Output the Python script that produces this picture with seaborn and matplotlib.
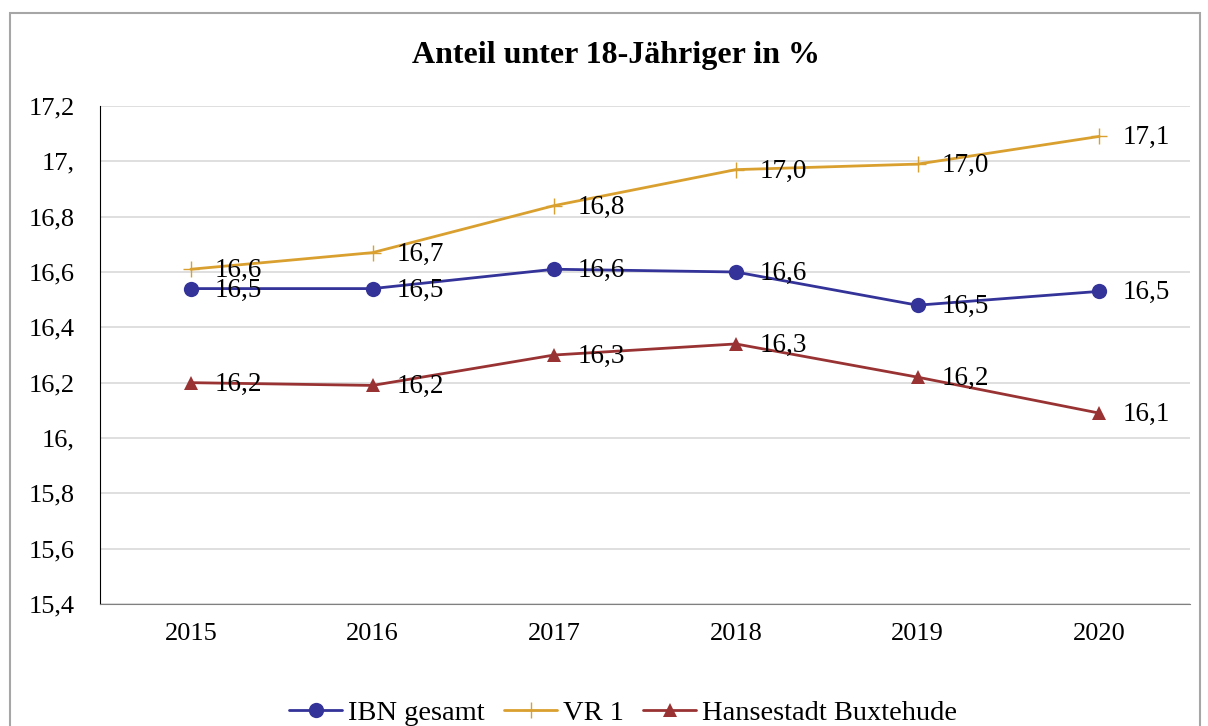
import pandas as pd
import seaborn as sns
import matplotlib.pyplot as plt
from matplotlib.patches import Rectangle

years = ['2015', '2016', '2017', '2018', '2019', '2020']
ibn_gesamt = [16.54, 16.54, 16.61, 16.60, 16.48, 16.53]
vr_1 = [16.61, 16.67, 16.84, 16.97, 16.99, 17.09]
buxtehude = [16.20, 16.19, 16.30, 16.34, 16.22, 16.09]
series_names = ['IBN gesamt', 'VR 1', 'Hansestadt Buxtehude']
y_ticks = [15.4, 15.6, 15.8, 16.0, 16.2, 16.4, 16.6, 16.8, 17.0, 17.2]
y_tick_labels = ['15,4', '15,6', '15,8', '16,', '16,2', '16,4', '16,6', '16,8', '17,', '17,2']

colors = {'IBN gesamt': '#333399', 'VR 1': '#D9A030', 'Hansestadt Buxtehude': '#993333'}
markers = {'IBN gesamt': 'o', 'VR 1': '+', 'Hansestadt Buxtehude': '^'}
sizes = {'IBN gesamt': 11, 'VR 1': 12, 'Hansestadt Buxtehude': 10}

df = pd.DataFrame({
    'Jahr': years * 3,
    'Wert': ibn_gesamt + vr_1 + buxtehude,
    'Serie': [s for s in series_names for _ in years],
})

sns.set_style('white')
plt.rcParams['font.family'] = ['Liberation Serif', 'DejaVu Serif']
plt.rcParams['text.color'] = 'black'
plt.rcParams['xtick.color'] = 'black'
plt.rcParams['ytick.color'] = 'black'

fig = plt.figure(figsize=(12.08, 7.26), dpi=100)
ax = fig.add_axes([100 / 1208, 1 - 604 / 726, 1090 / 1208, 498 / 726])

for name in series_names:
    sub = df[df['Serie'] == name]
    sns.lineplot(data=sub, x='Jahr', y='Wert', ax=ax, color=colors[name], marker=markers[name],
                 markersize=sizes[name], markeredgewidth=1 if name == 'VR 1' else 0,
                 markeredgecolor=colors[name], linewidth=2, label=name, sort=False)
    for x, v in enumerate(sub['Wert']):
        ax.annotate(f'{v:.1f}'.replace('.', ','), (x, v), xytext=(17, -1), textcoords='offset points',
                    ha='left', va='center', fontsize=19.5, color='black')

ax.set_xlim(-0.5, 5.5)
ax.set_ylim(15.4, 17.2)
ax.set_yticks(y_ticks)
ax.set_yticklabels(y_tick_labels)
ax.tick_params(axis='both', labelsize=19, length=0)
ax.tick_params(axis='y', pad=18)
ax.tick_params(axis='x', pad=14)
ax.set_xlabel('')
ax.set_ylabel('')
ax.grid(axis='y', color='#d9d9d9', linewidth=1.2)
ax.set_axisbelow(True)
for side in ['top', 'right']:
    ax.spines[side].set_visible(False)
ax.spines['left'].set_color('black')
ax.spines['bottom'].set_color('#808080')

fig.text(616 / 1208, 1 - 56 / 726, 'Anteil unter 18-Jähriger in %', ha='center', va='center',
         fontsize=23, fontweight='bold')

ax.legend(loc='center', bbox_to_anchor=(623 / 1208, 1 - 713 / 726), bbox_transform=fig.transFigure,
          ncol=3, frameon=False, fontsize=20.5, handlelength=1.85, columnspacing=0.7, handletextpad=0.2)

fig.patches.append(Rectangle((10 / 1208, -0.1), 1190 / 1208, 1.1 - 13 / 726, transform=fig.transFigure,
                             fill=False, edgecolor='#a6a6a6', linewidth=1.5))

fig.savefig('out.png', dpi=100, facecolor='white')
